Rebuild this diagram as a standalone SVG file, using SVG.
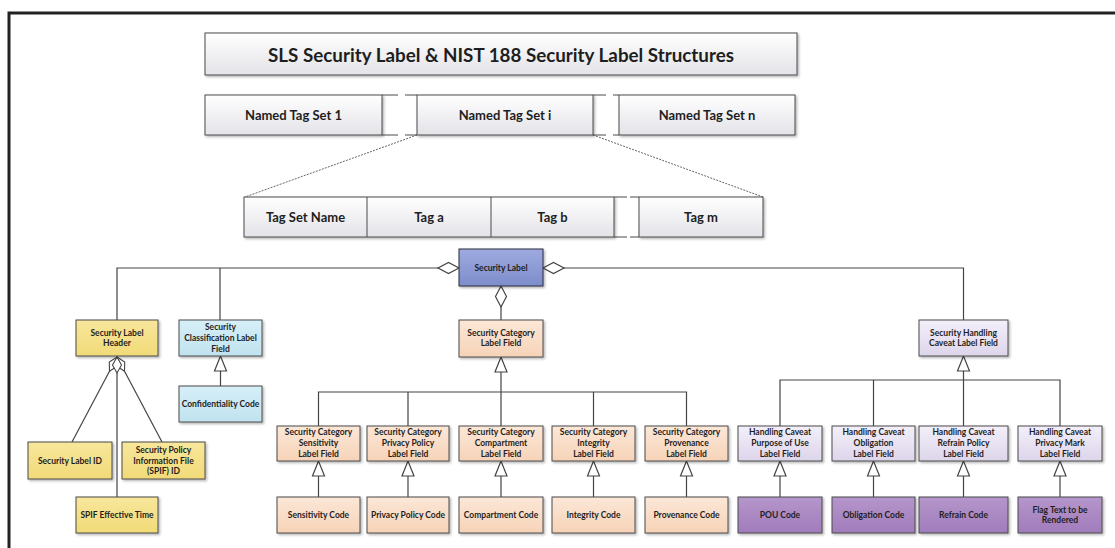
<svg xmlns="http://www.w3.org/2000/svg" width="1115" height="548" viewBox="0 0 1115 548">
  <defs>
    <linearGradient id="gHead" x1="0" y1="0" x2="0" y2="1">
      <stop offset="0" stop-color="#ffffff"/>
      <stop offset="1" stop-color="#e3e3e8"/>
    </linearGradient>
    <linearGradient id="gBlue" x1="0" y1="0" x2="0" y2="1">
      <stop offset="0" stop-color="#9eaadf"/>
      <stop offset="1" stop-color="#7d8dcb"/>
    </linearGradient>
    <linearGradient id="gYellow" x1="0" y1="0" x2="0" y2="1">
      <stop offset="0" stop-color="#f8e79c"/>
      <stop offset="1" stop-color="#f1da78"/>
    </linearGradient>
    <linearGradient id="gCyan" x1="0" y1="0" x2="0" y2="1">
      <stop offset="0" stop-color="#d6eff8"/>
      <stop offset="1" stop-color="#c0e3ef"/>
    </linearGradient>
    <linearGradient id="gPeach" x1="0" y1="0" x2="0" y2="1">
      <stop offset="0" stop-color="#fce7d7"/>
      <stop offset="1" stop-color="#f6d3b8"/>
    </linearGradient>
    <linearGradient id="gLav" x1="0" y1="0" x2="0" y2="1">
      <stop offset="0" stop-color="#f3effa"/>
      <stop offset="1" stop-color="#ddd5ea"/>
    </linearGradient>
    <linearGradient id="gPurple" x1="0" y1="0" x2="0" y2="1">
      <stop offset="0" stop-color="#b596cb"/>
      <stop offset="1" stop-color="#a07cbb"/>
    </linearGradient>
    <filter id="shadow" x="-10%" y="-10%" width="130%" height="140%">
      <feDropShadow dx="1.5" dy="1.5" stdDeviation="0.8" flood-color="#000" flood-opacity="0.3"/>
    </filter>
    <!-- open aggregation diamond, drawn forward from the start of a path -->
    <marker id="agg" markerUnits="userSpaceOnUse" orient="auto" refX="0" refY="0" markerWidth="30" markerHeight="30" overflow="visible">
      <path d="M0,0 L10.5,-5.5 L21,0 L10.5,5.5 Z" fill="#fff" stroke="#444" stroke-width="1.2"/>
    </marker>
    <marker id="aggSmall" markerUnits="userSpaceOnUse" orient="auto" refX="0" refY="0" markerWidth="30" markerHeight="30" overflow="visible">
      <path d="M0,0 L8,-4.5 L16,0 L8,4.5 Z" fill="#fff" stroke="#444" stroke-width="1.1"/>
    </marker>
    <!-- hollow generalization triangle at the end of a path -->
    <marker id="gen" markerUnits="userSpaceOnUse" orient="auto" refX="0" refY="0" markerWidth="30" markerHeight="30" overflow="visible">
      <path d="M0,0 L-15,-6 L-15,6 Z" fill="#fff" stroke="#444" stroke-width="1.2"/>
    </marker>
  </defs>
  <style>
    .box { stroke: #4a4a4a; stroke-width: 1; filter: url(#shadow); }
    .head { fill: url(#gHead); }
    .blue { fill: url(#gBlue); stroke: #2f2f3f; }
    .yellow { fill: url(#gYellow); }
    .cyan { fill: url(#gCyan); }
    .peach { fill: url(#gPeach); }
    .lav { fill: url(#gLav); }
    .purple { fill: url(#gPurple); }
    .div { stroke: #4a4a4a; stroke-width: 1; fill: none; }
    text { font-family: Lato, "Liberation Sans", sans-serif; font-weight: bold; fill: #1e1e1e; text-anchor: middle; dominant-baseline: central; }
    .title { font-size: 18.8px; }
    .big { font-size: 13px; }
    .sm { font-size: 8.5px; }
    .conn { fill: none; stroke: #444; stroke-width: 1.2; }
    .dash { fill: none; stroke: #555; stroke-width: 0.9; stroke-dasharray: 2 1.2; }
  </style>
  <rect width="1115" height="548" fill="#fff"/>

  <!-- outer frame -->
  <path d="M9,548 V13 H1115" fill="none" stroke="#222" stroke-width="3"/>

  <!-- title -->
  <g id="title">
    <rect class="box head" x="205" y="33" width="592" height="42"/>
    <text class="title" x="501" y="54">SLS Security Label &amp; NIST 188 Security Label Structures</text>
  </g>

  <!-- named tag sets -->
  <g id="named-tag-sets">
    <rect class="box head" x="205" y="95" width="177" height="40"/>
    <rect class="box head" x="417" y="95" width="176" height="40"/>
    <rect class="box head" x="619" y="95" width="176" height="40"/>
    <path class="div" d="M382,95 H398 M382,135 H398 M405,95 H417 M405,135 H417 M593,95 H606 M593,135 H606 M613,95 H619 M613,135 H619"/>
    <text class="big" x="293.5" y="115">Named Tag Set 1</text>
    <text class="big" x="505" y="115">Named Tag Set i</text>
    <text class="big" x="707" y="115">Named Tag Set n</text>
  </g>

  <!-- tags of one tag set -->
  <g id="tag-set">
    <rect class="box head" x="244" y="197" width="370" height="40"/>
    <rect class="box head" x="639" y="197" width="124" height="40"/>
    <path class="div" d="M367,197 V237 M491,197 V237 M614,197 H627 M614,237 H627 M630,197 H639 M630,237 H639"/>
    <text class="big" x="305.5" y="217">Tag Set Name</text>
    <text class="big" x="429" y="217">Tag a</text>
    <text class="big" x="552.5" y="217">Tag b</text>
    <text class="big" x="701" y="217">Tag m</text>
  </g>

  <!-- connectors -->
  <g id="connectors">
    <path class="dash" d="M417,135 L245,197 M593,135 L763,197"/>
    <!-- aggregation from Security Label -->
    <path class="conn" marker-start="url(#agg)" d="M459,268 H117 V320"/>
    <path class="conn" d="M220,268 V320"/>
    <path class="conn" marker-start="url(#agg)" d="M543,268 H963.5 V320"/>
    <path class="conn" marker-start="url(#agg)" d="M501,286 V320"/>
    <!-- Security Label Header parts -->
    <path class="conn" marker-start="url(#aggSmall)" d="M117,357 L72,442"/>
    <path class="conn" marker-start="url(#aggSmall)" d="M117,357 L162,442"/>
    <path class="conn" marker-start="url(#aggSmall)" d="M117,357 V497"/>
    <!-- classification -->
    <path class="conn" marker-end="url(#gen)" d="M220.5,386 V356"/>
    <!-- security category tree -->
    <path class="conn" marker-end="url(#gen)" d="M501,392 V357"/>
    <path class="conn" d="M318.5,426 V392 H686.5 V426 M408,392 V426 M501,392 V426 M593.5,392 V426"/>
    <path class="conn" marker-end="url(#gen)" d="M318.5,497 V461"/>
    <path class="conn" marker-end="url(#gen)" d="M408,497 V461"/>
    <path class="conn" marker-end="url(#gen)" d="M501,497 V461"/>
    <path class="conn" marker-end="url(#gen)" d="M593.5,497 V461"/>
    <path class="conn" marker-end="url(#gen)" d="M686.5,497 V461"/>
    <!-- handling caveat tree -->
    <path class="conn" marker-end="url(#gen)" d="M963.5,380 V356"/>
    <path class="conn" d="M780,426 V380 H1060 V426 M873.5,380 V426 M963.5,380 V426"/>
    <path class="conn" marker-end="url(#gen)" d="M780,497 V461"/>
    <path class="conn" marker-end="url(#gen)" d="M873.5,497 V461"/>
    <path class="conn" marker-end="url(#gen)" d="M963.5,497 V461"/>
    <path class="conn" marker-end="url(#gen)" d="M1060,497 V461"/>
  </g>

  <!-- Security Label -->
  <g id="security-label">
    <rect class="box blue" x="459" y="249" width="84" height="37"/>
    <text class="sm" x="501" y="267.5">Security Label</text>
  </g>

  <!-- header branch -->
  <g id="security-label-header">
    <rect class="box yellow" x="76" y="320" width="82" height="36"/>
    <text class="sm" x="117" y="332.6">Security Label</text>
    <text class="sm" x="117" y="343.4">Header</text>
  </g>
  <g id="security-label-id">
    <rect class="box yellow" x="28" y="442" width="84" height="37"/>
    <text class="sm" x="70" y="460.5">Security Label ID</text>
  </g>
  <g id="spif-id">
    <rect class="box yellow" x="122" y="442" width="83" height="37"/>
    <text class="sm" x="163.5" y="449.7">Security Policy</text>
    <text class="sm" x="163.5" y="460.5">Information File</text>
    <text class="sm" x="163.5" y="471.3">(SPIF) ID</text>
  </g>
  <g id="spif-effective-time">
    <rect class="box yellow" x="76" y="497" width="82" height="36"/>
    <text class="sm" x="117" y="515">SPIF Effective Time</text>
  </g>

  <!-- classification branch -->
  <g id="security-classification">
    <rect class="box cyan" x="179" y="320" width="83" height="36"/>
    <text class="sm" x="220.5" y="327.2">Security</text>
    <text class="sm" x="220.5" y="338">Classification Label</text>
    <text class="sm" x="220.5" y="348.8">Field</text>
  </g>
  <g id="confidentiality-code">
    <rect class="box cyan" x="179" y="386" width="83" height="36"/>
    <text class="sm" x="220.5" y="404">Confidentiality Code</text>
  </g>

  <!-- security category branch -->
  <g id="security-category">
    <rect class="box peach" x="459" y="320" width="84" height="37"/>
    <text class="sm" x="501" y="332.6">Security Category</text>
    <text class="sm" x="501" y="343.4">Label Field</text>
  </g>
  <g id="sc-sensitivity">
    <rect class="box peach" x="277" y="426" width="83" height="35"/>
    <text class="sm" x="318.5" y="432.2">Security Category</text>
    <text class="sm" x="318.5" y="443">Sensitivity</text>
    <text class="sm" x="318.5" y="453.8">Label Field</text>
  </g>
  <g id="sc-privacy-policy">
    <rect class="box peach" x="367" y="426" width="82" height="35"/>
    <text class="sm" x="408" y="432.2">Security Category</text>
    <text class="sm" x="408" y="443">Privacy Policy</text>
    <text class="sm" x="408" y="453.8">Label Field</text>
  </g>
  <g id="sc-compartment">
    <rect class="box peach" x="459" y="426" width="84" height="35"/>
    <text class="sm" x="501" y="432.2">Security Category</text>
    <text class="sm" x="501" y="443">Compartment</text>
    <text class="sm" x="501" y="453.8">Label Field</text>
  </g>
  <g id="sc-integrity">
    <rect class="box peach" x="552" y="426" width="83" height="35"/>
    <text class="sm" x="593.5" y="432.2">Security Category</text>
    <text class="sm" x="593.5" y="443">Integrity</text>
    <text class="sm" x="593.5" y="453.8">Label Field</text>
  </g>
  <g id="sc-provenance">
    <rect class="box peach" x="645" y="426" width="83" height="35"/>
    <text class="sm" x="686.5" y="432.2">Security Category</text>
    <text class="sm" x="686.5" y="443">Provenance</text>
    <text class="sm" x="686.5" y="453.8">Label Field</text>
  </g>
  <g id="sensitivity-code">
    <rect class="box peach" x="277" y="497" width="83" height="36"/>
    <text class="sm" x="318.5" y="515">Sensitivity Code</text>
  </g>
  <g id="privacy-policy-code">
    <rect class="box peach" x="367" y="497" width="82" height="36"/>
    <text class="sm" x="408" y="515">Privacy Policy Code</text>
  </g>
  <g id="compartment-code">
    <rect class="box peach" x="459" y="497" width="84" height="36"/>
    <text class="sm" x="501" y="515">Compartment Code</text>
  </g>
  <g id="integrity-code">
    <rect class="box peach" x="552" y="497" width="83" height="36"/>
    <text class="sm" x="593.5" y="515">Integrity Code</text>
  </g>
  <g id="provenance-code">
    <rect class="box peach" x="645" y="497" width="83" height="36"/>
    <text class="sm" x="686.5" y="515">Provenance Code</text>
  </g>

  <!-- handling caveat branch -->
  <g id="handling-caveat">
    <rect class="box lav" x="919" y="320" width="89" height="36"/>
    <text class="sm" x="963.5" y="332.6">Security Handling</text>
    <text class="sm" x="963.5" y="343.4">Caveat Label Field</text>
  </g>
  <g id="hc-purpose-of-use">
    <rect class="box lav" x="738" y="426" width="84" height="35"/>
    <text class="sm" x="780" y="432.2">Handling Caveat</text>
    <text class="sm" x="780" y="443">Purpose of Use</text>
    <text class="sm" x="780" y="453.8">Label Field</text>
  </g>
  <g id="hc-obligation">
    <rect class="box lav" x="832" y="426" width="83" height="35"/>
    <text class="sm" x="873.5" y="432.2">Handling Caveat</text>
    <text class="sm" x="873.5" y="443">Obligation</text>
    <text class="sm" x="873.5" y="453.8">Label Field</text>
  </g>
  <g id="hc-refrain-policy">
    <rect class="box lav" x="919" y="426" width="89" height="35"/>
    <text class="sm" x="963.5" y="432.2">Handling Caveat</text>
    <text class="sm" x="963.5" y="443">Refrain Policy</text>
    <text class="sm" x="963.5" y="453.8">Label Field</text>
  </g>
  <g id="hc-privacy-mark">
    <rect class="box lav" x="1018" y="426" width="84" height="35"/>
    <text class="sm" x="1060" y="432.2">Handling Caveat</text>
    <text class="sm" x="1060" y="443">Privacy Mark</text>
    <text class="sm" x="1060" y="453.8">Label Field</text>
  </g>
  <g id="pou-code">
    <rect class="box purple" x="738" y="497" width="84" height="36"/>
    <text class="sm" x="780" y="515">POU Code</text>
  </g>
  <g id="obligation-code">
    <rect class="box purple" x="832" y="497" width="83" height="36"/>
    <text class="sm" x="873.5" y="515">Obligation Code</text>
  </g>
  <g id="refrain-code">
    <rect class="box purple" x="919" y="497" width="89" height="36"/>
    <text class="sm" x="963.5" y="515">Refrain Code</text>
  </g>
  <g id="flag-text-code">
    <rect class="box purple" x="1018" y="497" width="84" height="36"/>
    <text class="sm" x="1060" y="509.6">Flag Text to be</text>
    <text class="sm" x="1060" y="520.4">Rendered</text>
  </g>
</svg>
